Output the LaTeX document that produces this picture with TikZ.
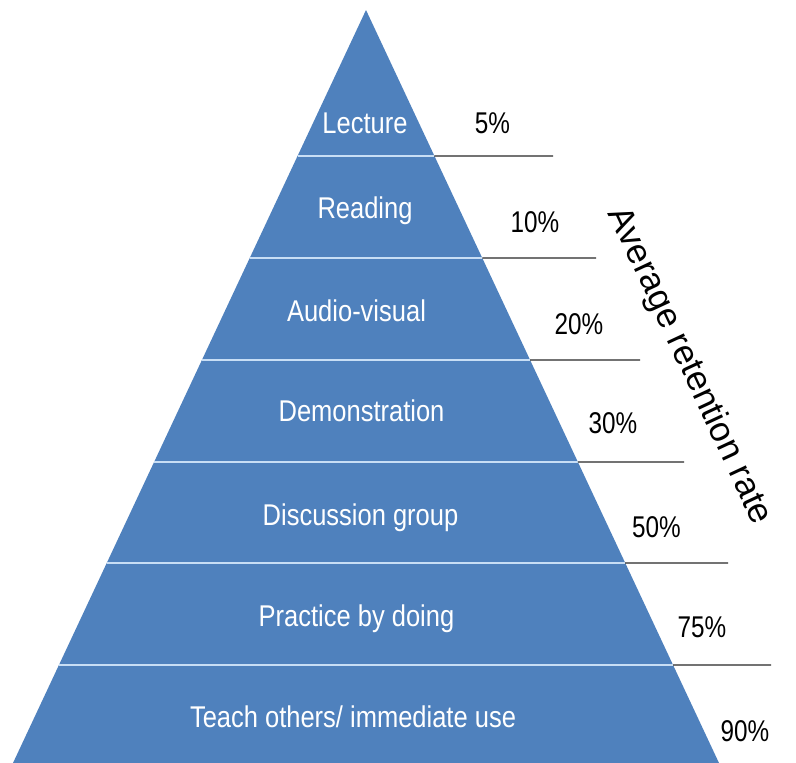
\documentclass[tikz,border=0pt]{standalone}
\usepackage{fontspec}
\setmainfont{Liberation Sans}
\newfontfamily\pyrfont[FakeStretch=0.85]{Liberation Sans}
\newfontfamily\pctfont[FakeStretch=0.81]{Liberation Sans}
\usetikzlibrary{calc}
\definecolor{pyrblue}{RGB}{79,129,189}
\definecolor{sepline}{RGB}{200,222,245}
\definecolor{rateline}{RGB}{40,40,40}
\tikzset{
  layertext/.style={anchor=base, text=white, inner sep=0pt, font=\pyrfont\fontsize{30}{36}\selectfont},
  pcttext/.style={anchor=base, text=black, inner sep=0pt, font=\pctfont\fontsize{30}{36}\selectfont},
  axistext/.style={anchor=base, text=black, inner sep=0pt, rotate=-65, font=\fontsize{35}{40}\selectfont},
  sep/.style={draw=sepline, line width=2pt},
  rate/.style={draw=rateline, line width=1.4pt}
}
\begin{document}
\begin{tikzpicture}[x=1pt,y=-1pt]
\useasboundingbox[fill=white] (0,0) rectangle (796,763);
% pyramid corners
\coordinate (apex) at (366,10);
\coordinate (bl) at (13,763);
\coordinate (br) at (719,763);
\fill[pyrblue] (apex) -- (bl) -- (br) -- cycle;
% separator levels
\foreach \n/\y/\xe in {1/156/553, 2/258/596, 3/360/640, 4/462/684, 5/563/728, 6/665/771}{
  \coordinate (l\n) at ($(apex)!{(\y-10)/753}!(bl)$);
  \coordinate (r\n) at ($(apex)!{(\y-10)/753}!(br)$);
  \coordinate (e\n) at (\xe,\y);
  \draw[sep] (l\n) -- (r\n);
  \draw[rate] (r\n) -- (e\n);
}
% layer labels
\node[layertext] (lecture) at (365,133) {Lecture};
\node[layertext] (reading) at (365,218) {Reading};
\node[layertext] (audio) at (356.5,321) {Audio-visual};
\node[layertext] (demo) at (361.5,421.5) {Demonstration};
\node[layertext] (disc) at (360.5,525) {Discussion group};
\node[layertext] (prac) at (356.5,626) {Practice by doing};
\node[layertext] (teach) at (353,727) {Teach others/ immediate use};
% percentages
\node[pcttext] (p5) at (492.5,133) {5\%};
\node[pcttext] (p10) at (535,232) {10\%};
\node[pcttext] (p20) at (579,334) {20\%};
\node[pcttext] (p30) at (613,433) {30\%};
\node[pcttext] (p50) at (656.5,537) {50\%};
\node[pcttext] (p75) at (702,637) {75\%};
\node[pcttext] (p90) at (745,741) {90\%};
% axis title
\node[axistext] (axis) at (681,370) {Average retention rate};
\end{tikzpicture}
\end{document}
